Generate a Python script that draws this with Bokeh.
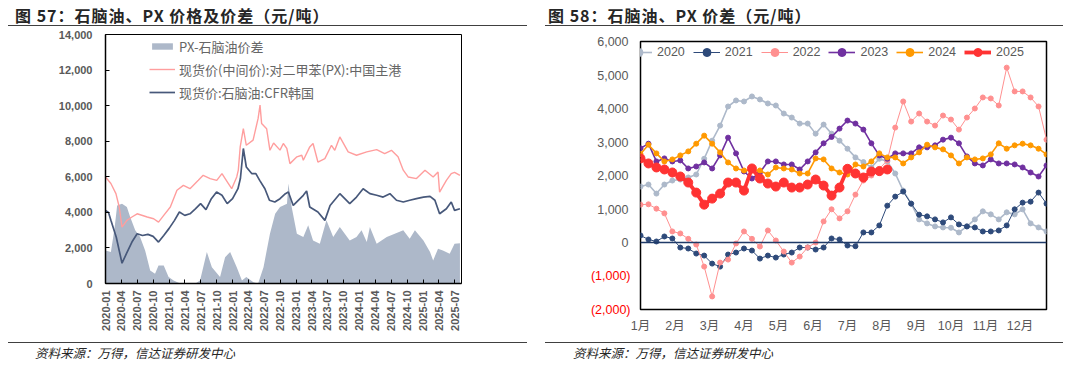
import pandas as pd
from math import pi
from bokeh.plotting import figure
from bokeh.models import (Range1d, FixedTicker, NumeralTickFormatter, DatetimeTickFormatter,
                          Legend, LegendItem, Span, Div, LinearAxis)
from bokeh.layouts import column, row
from bokeh.embed import file_html
from bokeh.resources import INLINE

# ---------------- data: left chart (图57) ----------------
nap_dates = ["2020-01-01","2020-01-18","2020-02-01","2020-03-03","2020-04-05","2020-05-01","2020-06-01","2020-07-01","2020-08-01","2020-09-01",
             "2020-10-01","2020-11-01","2020-12-01","2021-01-01","2021-02-01","2021-03-01","2021-04-01","2021-05-01","2021-06-01","2021-07-01",
             "2021-08-01","2021-09-01","2021-10-01","2021-11-01","2021-12-01","2022-01-01","2022-02-01","2022-02-15","2022-03-04","2022-03-21",
             "2022-04-21","2022-05-15","2022-06-06","2022-07-06","2022-08-01","2022-09-01","2022-10-01","2022-11-01","2022-11-18","2022-12-16",
             "2023-02-12","2023-03-03","2023-03-21","2023-05-07","2023-06-16","2023-07-16","2023-09-10","2023-11-06","2023-12-15","2024-01-22",
             "2024-03-01","2024-04-09","2024-05-16","2024-06-24","2024-08-01","2024-09-09","2024-10-16","2024-11-24","2025-01-03","2025-02-10",
             "2025-03-10","2025-04-06","2025-05-15","2025-06-12","2025-07-01","2025-08-01"]
nap_vals = [4110,4000,3550,2600,1140,1690,2330,2800,2700,2760,
            2650,2330,2700,3100,3550,4020,3830,3920,4200,4490,
            4150,4770,5140,4960,4490,4770,5330,5900,7590,6550,
            6180,6180,5800,5330,4680,4580,4770,5050,5140,4390,
            4960,5200,4300,4020,3550,4390,5050,4490,4860,5330,
            5050,4960,4860,5050,4680,4580,4680,4770,4860,4900,
            4680,3920,4200,4580,4110,4200]

px_dates = ["2020-01-01","2020-02-01","2020-03-01","2020-03-20","2020-04-05","2020-05-03","2020-06-01","2020-07-01","2020-08-28","2020-10-04",
            "2020-11-01","2020-12-01","2021-01-08","2021-02-15","2021-03-24","2021-05-01","2021-06-18","2021-07-16","2021-08-25","2021-10-02",
            "2021-11-01","2021-12-08","2021-12-27","2022-01-25","2022-02-03","2022-02-14","2022-03-04","2022-03-21","2022-04-29","2022-05-28",
            "2022-06-08","2022-06-17","2022-07-16","2022-08-04","2022-08-25","2022-10-01","2022-10-20","2022-11-09","2022-11-27","2023-01-06",
            "2023-02-03","2023-02-12","2023-03-21","2023-04-09","2023-05-07","2023-06-16","2023-07-24","2023-08-12","2023-09-10","2023-10-28",
            "2023-12-15","2024-02-12","2024-04-09","2024-05-25","2024-07-03","2024-08-10","2024-09-09","2024-10-07","2024-11-24","2025-01-12",
            "2025-02-28","2025-03-28","2025-04-06","2025-05-15","2025-06-12","2025-07-01","2025-08-01"]
px_vals = [5990,5620,5050,4300,3170,3550,3740,3920,3740,3640,
           3450,3830,4300,5240,5520,5330,5800,6080,5900,5800,
           6180,5620,5330,5990,6370,7680,8710,7770,8060,9280,
           10030,9000,8700,7490,7900,7500,7870,7600,6740,7120,
           7210,6930,7680,7870,6830,7020,7770,7490,8240,7400,
           7210,7400,7530,7300,7490,7120,6370,5990,5900,6370,
           5990,6270,5140,5800,6180,6250,6080]

sp_dates = ["2020-01-01","2020-02-01","2020-02-22","2020-03-08","2020-04-05","2020-05-03","2020-05-22","2020-06-20","2020-07-18","2020-08-16",
            "2020-09-14","2020-10-12","2020-11-01","2020-12-01","2020-12-29","2021-01-27","2021-03-06","2021-06-01","2021-06-28","2021-08-06",
            "2021-09-04","2021-10-21","2021-11-19","2021-12-18","2022-01-25","2022-02-24","2022-03-21","2022-05-01","2022-05-28","2022-06-28",
            "2022-08-04","2022-09-03","2022-10-01","2022-11-10","2022-11-18","2022-12-07","2023-01-06","2023-02-12","2023-03-12","2023-04-09",
            "2023-05-18","2023-06-25","2023-08-03","2023-09-10","2023-11-06","2023-12-15","2024-01-13","2024-02-12","2024-03-01","2024-04-09",
            "2024-06-06","2024-07-22","2024-09-09","2024-10-16","2024-11-15","2025-01-03","2025-02-10","2025-02-28","2025-03-28","2025-04-25",
            "2025-06-03","2025-07-01","2025-08-01"]
sp_vals = [1860,1770,3100,4390,4490,4300,3740,2990,2610,1860,
           730,550,1010,1010,360,170,0,0,170,1770,
           920,360,1480,1770,920,170,360,70,0,920,
           2800,3920,4300,4490,5620,4300,2800,2610,3270,2420,
           2240,3550,2610,3170,2420,2610,2990,2330,3170,2240,
           2610,2800,2990,2520,2990,2420,1770,1300,1960,1860,
           1670,2240,2270]

left_legend = ["PX-石脑油价差", "现货价(中间价):对二甲苯(PX):中国主港", "现货价:石脑油:CFR韩国"]

# ---------------- data: right chart (图58), weekly ----------------
s2020 = [1670,1730,1460,1730,1850,1880,1940,2030,2500,3040,3490,4060,4240,4210,4360,4270,4150,4090,3850,3730,
         3550,3550,3250,3520,3250,3040,2800,2540,2400,2240,2500,2420,2060,1550,1160,690,570,480,450,440,
         300,480,690,930,840,690,900,840,990,570,450,330]
s2021 = [210,90,30,180,120,-150,-180,-330,-390,-630,-720,-360,-300,-180,-240,-480,-390,-450,-360,-300,
         -150,-150,-210,-150,120,90,-90,-110,300,300,510,1100,1370,1520,1160,830,780,690,600,750,
         540,480,450,330,330,360,510,990,1190,1220,1490,1160]
s2022 = [1130,1140,1010,870,330,270,110,-60,-720,-1610,-600,-510,-30,330,110,-120,360,60,-270,-600,
         -420,-150,0,630,990,720,930,1430,1850,2000,2200,2450,3430,4210,3610,3850,3610,3490,3790,3670,
         3370,3730,4000,4330,4300,4090,5220,4510,4510,4330,4060,3070]
s2023 = [2810,2950,2420,2510,2420,2450,2210,2270,2390,2210,2600,3130,2660,2120,1910,2090,2420,2420,2330,2330,
         2180,2420,2690,2960,3150,3400,3640,3550,3370,2960,2600,2500,2660,2660,2660,2840,2840,2900,3070,3130,
         2960,2570,2360,2300,2480,2360,2360,2330,2240,2090,1970,2300]
s2024 = [2640,2920,2660,2420,2480,2600,2720,2950,3190,2950,2690,2390,2210,2150,2150,2150,2030,2240,2210,2180,
         2060,2060,2510,2480,2210,2090,2030,2330,2270,2420,2660,2540,2540,2360,2540,2690,2920,2840,2780,2600,
         2360,2540,2480,2510,2630,2960,2800,2900,2950,2900,2800,2630]
s2025 = [2510,2360,2240,2180,2090,1970,1790,1490,1130,1310,1460,1790,1790,1550,2210,1910,1760,1670,1790,1640,
         1640,1730,1880,1700,1400,1640,2200,2060,1940,2120,2130,2180]
years = ["2020", "2021", "2022", "2023", "2024", "2025"]
month_labels = ["1月","2月","3月","4月","5月","6月","7月","8月","9月","10月","11月","12月"]
neg_ticks = [-1000, -2000]
neg_labels = ["(1,000)", "(2,000)"]

NUM_FONT = "Liberation Sans, Noto Sans CJK SC"
CJK = "Noto Sans CJK SC"
GRAY = "#595959"

# ---------------- left figure ----------------
p1 = figure(width=536, height=315, x_axis_type="datetime", output_backend="svg", toolbar_location=None,
            x_range=Range1d(pd.Timestamp("2020-01-01"), pd.Timestamp("2025-08-10")),
            y_range=Range1d(0, 14000),
            min_border_left=97, min_border_right=83, min_border_top=7, min_border_bottom=59)
p1.grid.visible = False
p1.outline_line_color = "#000000"
p1.outline_line_width = 1

r_area = p1.varea(x=pd.to_datetime(sp_dates), y1=0, y2=sp_vals, fill_color="#adb8c9", fill_alpha=1)
r_px = p1.line(pd.to_datetime(px_dates), px_vals, line_color="#ff9e9e", line_width=1.4)
r_nap = p1.line(pd.to_datetime(nap_dates), nap_vals, line_color="#47587a", line_width=1.7)

qticks = [int(t.value // 10**6) for t in pd.date_range("2020-01-01", "2025-07-01", freq="QS")]
p1.xaxis.ticker = FixedTicker(ticks=qticks)
p1.xaxis.formatter = DatetimeTickFormatter(years="%Y-%m", months="%Y-%m", days="%Y-%m", hours="%Y-%m")
p1.xaxis.major_label_orientation = pi / 2
p1.yaxis.ticker = FixedTicker(ticks=list(range(0, 14001, 2000)))
p1.yaxis.formatter = NumeralTickFormatter(format="0,0")
for ax in (p1.xaxis[0], p1.yaxis[0]):
    ax.axis_line_color = "#000000"
    ax.axis_line_width = 1.5
    ax.major_tick_in = 4
    ax.major_tick_out = 0
    ax.major_tick_line_color = "#000000"
    ax.minor_tick_line_color = None
    ax.major_label_text_font = NUM_FONT
    ax.major_label_text_font_size = "11px"
    ax.major_label_text_font_style = "bold"
    ax.major_label_text_color = GRAY
p1.xaxis.major_label_standoff = 7
p1.yaxis.major_label_standoff = 13

leg1 = Legend(items=[LegendItem(label=left_legend[0], renderers=[r_area]),
                     LegendItem(label=left_legend[1], renderers=[r_px]),
                     LegendItem(label=left_legend[2], renderers=[r_nap])],
              location=(44, 181), orientation="vertical",
              glyph_width=26, glyph_height=8, label_height=20, label_standoff=4, spacing=3,
              padding=0, margin=0, border_line_color=None, background_fill_alpha=0,
              label_text_font=CJK, label_text_font_size="13px", label_text_color="#666666")
p1.add_layout(leg1)

# ---------------- right figure ----------------
p2 = figure(width=536, height=309, output_backend="svg", toolbar_location=None,
            x_range=Range1d(0, 51), y_range=Range1d(-2000, 6000),
            min_border_left=96, min_border_right=34, min_border_top=8, min_border_bottom=33)
p2.grid.visible = False
p2.outline_line_color = "#000000"
p2.outline_line_width = 1.5
p2.add_layout(Span(location=0, dimension="width", line_color="#1f3a68", line_width=1.5))

styles = {
    "2020": dict(color="#adb9ca", lw=1.6, ms=5),
    "2021": dict(color="#2e4a7a", lw=1.0, ms=5),
    "2022": dict(color="#ff9090", lw=1.0, ms=5),
    "2023": dict(color="#7030a0", lw=1.6, ms=5),
    "2024": dict(color="#ff9900", lw=1.6, ms=5),
    "2025": dict(color="#ff3333", lw=3.8, ms=9),
}
series = {"2020": s2020, "2021": s2021, "2022": s2022, "2023": s2023, "2024": s2024, "2025": s2025}
items = []
for y in years:
    vals = series[y]
    xs = list(range(len(vals)))
    st = styles[y]
    rl = p2.line(xs, vals, line_color=st["color"], line_width=st["lw"])
    rs = p2.scatter(xs, vals, size=st["ms"], fill_color=st["color"], line_color=st["color"])
    items.append(LegendItem(label=y, renderers=[rl, rs]))

month_pos = [i * 52 / 12 for i in range(12)]
p2.xaxis.ticker = FixedTicker(ticks=month_pos)
p2.xaxis.major_label_overrides = {m: lab for m, lab in zip(month_pos, month_labels)}
p2.yaxis.ticker = FixedTicker(ticks=list(range(0, 6001, 1000)))
p2.yaxis.formatter = NumeralTickFormatter(format="0,0")

# negative tick labels in red on a second left axis
neg_axis = LinearAxis(ticker=FixedTicker(ticks=neg_ticks),
                      major_label_overrides={t: lab for t, lab in zip(neg_ticks, neg_labels)})
p2.add_layout(neg_axis, "left")

for ax in (p2.xaxis[0], p2.yaxis[0], neg_axis):
    ax.axis_line_color = None
    ax.major_tick_line_color = None
    ax.minor_tick_line_color = None
    ax.major_tick_in = 0
    ax.major_tick_out = 0
    ax.minor_tick_in = 0
    ax.minor_tick_out = 0
    ax.major_label_text_font = NUM_FONT
    ax.major_label_text_font_size = "12.5px"
    ax.major_label_text_color = GRAY
neg_axis.major_label_text_color = "#ff0000"
p2.xaxis.major_label_standoff = 9
p2.yaxis[0].major_label_standoff = 12
neg_axis.major_label_standoff = -36

leg2 = Legend(items=items, location=(-15, 247), orientation="horizontal", nrows=1,
              glyph_width=27, glyph_height=20, label_height=20, label_standoff=5, spacing=8,
              padding=0, margin=0, border_line_color=None, background_fill_alpha=0,
              label_text_font=NUM_FONT, label_text_font_size="12.5px", label_text_color=GRAY)
p2.add_layout(leg2)

# ---------------- titles / source notes ----------------
def title_div(txt, ml, pl):
    html = ('<div style="margin-left:%dpx;width:%dpx;height:18px;box-sizing:border-box;'
            'border-bottom:1.3px solid #404040;padding-left:%dpx;font-family:\'Noto Sans CJK SC\';'
            'font-weight:bold;font-size:16px;line-height:15px;color:#262626;letter-spacing:1px;'
            'white-space:nowrap">%s</div>') % (ml, 519 - ml, pl, txt)
    return Div(text=html, width=536, height=19, margin=0)

def src_div(txt, ml, pl):
    html = ('<div style="margin-left:%dpx;width:%dpx;height:16px;box-sizing:border-box;'
            'border-top:1px solid #404040;padding-left:%dpx;padding-top:3px;font-family:\'Noto Sans CJK SC\';'
            'font-style:italic;font-size:12.5px;line-height:14px;color:#262626;white-space:nowrap">%s</div>') % (
            ml, 519 - ml, pl, txt)
    return Div(text=html, width=536, height=16, margin=0)

t1 = title_div("图 57：石脑油、PX 价格及价差（元/吨）", 0, 7)
t2 = title_div("图 58：石脑油、PX 价差（元/吨）", 1, 3)
s1 = src_div("资料来源：万得，信达证券研发中心", 0, 27)
s2 = src_div("资料来源：万得，信达证券研发中心", 1, 28)
chart_edge = Div(text='<div style="margin-left:46px;width:460px;height:6px;box-sizing:border-box;'
                      'border-bottom:1px solid #d9d9d9"></div>', width=536, height=6, margin=0)

left_col = column(t1, p1, s1, spacing=0)
right_col = column(t2, chart_edge, p2, s2, spacing=0)
layout = row(left_col, right_col, spacing=0, margin=(8, 0, 0, 8))
open("out.html", "w").write(file_html(layout, INLINE))
